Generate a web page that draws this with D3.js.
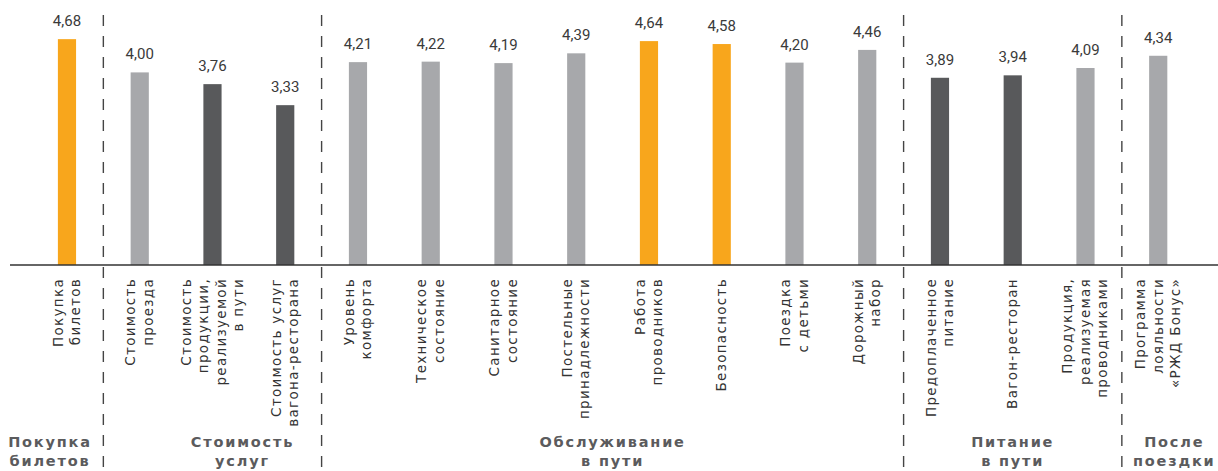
<!DOCTYPE html>
<html lang="ru">
<head>
    <meta charset="UTF-8">
    <title>Оценка удовлетворенности</title>
    <style>
        body { margin: 0; background: #fff; }
        .value { font-family: Roboto, sans-serif; font-size: 15px; fill: #3a3a3a; text-anchor: middle; }
        .cat { font-family: "DejaVu Sans", sans-serif; font-size: 13.5px; fill: #333; letter-spacing: 1.3px; }
        .group { font-family: "DejaVu Sans", sans-serif; font-weight: bold; font-size: 14.5px; fill: #5b5b5d; letter-spacing: 1.8px; text-anchor: middle; }
    </style>
</head>
<body>
<svg id="chart" width="1218" height="471"></svg>
<script src="https://d3js.org/d3.v7.min.js"></script>
<script>
    // подписи категорий (строки через \n)
    const categories = [
        "Покупка\nбилетов",
        "Стоимость\nпроезда",
        "Стоимость\nпродукции,\nреализуемой\nв пути",
        "Стоимость услуг\nвагона-ресторана",
        "Уровень\nкомфорта",
        "Техническое\nсостояние",
        "Санитарное\nсостояние",
        "Постельные\nпринадлежности",
        "Работа\nпроводников",
        "Безопасность",
        "Поездка\nс детьми",
        "Дорожный\nнабор",
        "Предоплаченное\nпитание",
        "Вагон-ресторан",
        "Продукция,\nреализуемая\nпроводниками",
        "Программа\nлояльности\n«РЖД Бонус»"
    ];
    const values = [4.68, 4.00, 3.76, 3.33, 4.21, 4.22, 4.19, 4.39, 4.64, 4.58, 4.20, 4.46, 3.89, 3.94, 4.09, 4.34];
    // high = выше среднего, mid, low
    const levels = ["high", "mid", "low", "low", "mid", "mid", "mid", "mid", "high", "high", "mid", "mid", "low", "low", "mid", "mid"];

    const groupNames = ["Покупка\nбилетов", "Стоимость\nуслуг", "Обслуживание\nв пути", "Питание\nв пути", "После\nпоездки"];
    const groupSizes = [1, 3, 8, 3, 1];

    const colors = { high: "#f8a61c", mid: "#a7a8ab", low: "#58595b" };
    const groupShift = [-17, 30, 0, 0, 16];

    const W = 1218, H = 471, baseY = 265;
    const svg = d3.select("#chart");

    const x = d3.scaleBand()
        .domain(d3.range(categories.length))
        .range([30.6, 1194.6])
        .paddingInner(0.75)
        .paddingOuter(0.375);

    const y = d3.scaleLinear()
        .domain([0, 5])
        .range([268, 23.5]);

    const cx = i => x(i) + x.bandwidth() / 2;

    // разделители групп
    let acc = 0;
    const seps = [];
    groupSizes.forEach((n, gi) => {
        acc += n;
        if (gi < groupSizes.length - 1) seps.push(cx(acc - 1) + x.step() / 2);
    });
    svg.selectAll("line.sep")
        .data(seps)
        .enter().append("line")
        .attr("class", "sep")
        .attr("x1", d => d).attr("x2", d => d)
        .attr("y1", 15).attr("y2", H)
        .attr("stroke", "#444")
        .attr("stroke-width", 1.4)
        .attr("stroke-dasharray", "11,10");

    // столбцы
    svg.selectAll("rect.bar")
        .data(values)
        .enter().append("rect")
        .attr("class", "bar")
        .attr("x", (d, i) => x(i))
        .attr("y", d => y(d))
        .attr("width", x.bandwidth())
        .attr("height", d => baseY - y(d))
        .attr("fill", (d, i) => colors[levels[i]]);

    svg.selectAll("text.value")
        .data(values)
        .enter().append("text")
        .attr("class", "value")
        .attr("x", (d, i) => cx(i))
        .attr("y", d => y(d) - 13)
        .text(d => d.toFixed(2).replace(".", ","));

    // ось
    svg.append("line")
        .attr("x1", 10).attr("x2", W)
        .attr("y1", baseY).attr("y2", baseY)
        .attr("stroke", "#333")
        .attr("stroke-width", 1.5);

    // подписи категорий
    const lh = 17.5;
    categories.forEach((c, i) => {
        const lines = c.split("\n");
        const t = svg.append("text")
            .attr("class", "cat")
            .attr("transform", "translate(" + cx(i) + "," + 278 + ") rotate(-90)")
            .attr("text-anchor", "end");
        lines.forEach((l, k) => {
            t.append("tspan")
                .attr("x", 0)
                .attr("y", (k - (lines.length - 1) / 2) * lh + 4.5)
                .text(l);
        });
    });

    // подписи групп
    let start = 0;
    groupNames.forEach((g, gi) => {
        const n = groupSizes[gi];
        const center = (cx(start) + cx(start + n - 1)) / 2 + groupShift[gi];
        start += n;
        const t = svg.append("text").attr("class", "group");
        g.split("\n").forEach((l, k) => {
            t.append("tspan")
                .attr("x", center)
                .attr("y", 447 + k * 19)
                .text(l);
        });
    });
</script>
</body>
</html>
